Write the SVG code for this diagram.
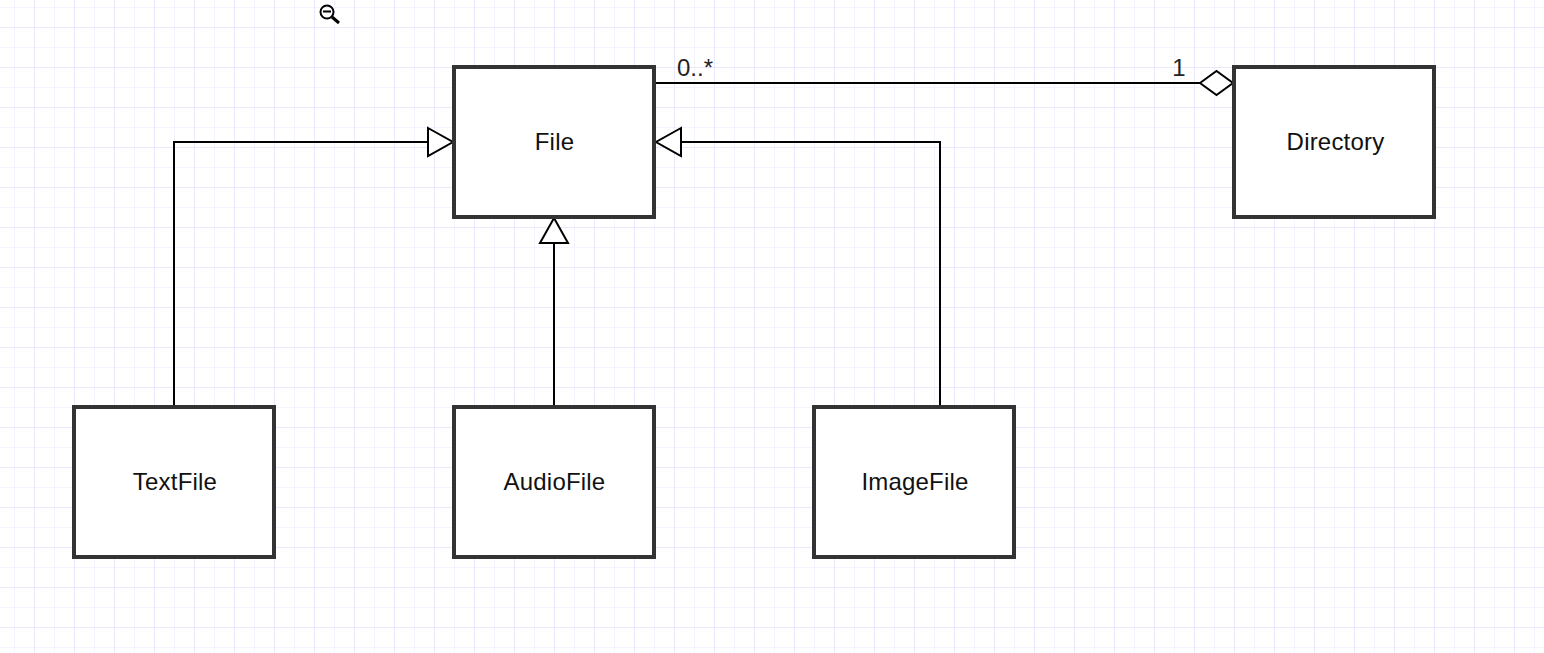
<svg xmlns="http://www.w3.org/2000/svg" width="1544" height="653" viewBox="0 0 1544 653">
<style>
.box{fill:#fff;stroke:#333;stroke-width:4}
.lbl{font:24px "Liberation Sans",Arial,sans-serif;fill:#111;text-anchor:middle;letter-spacing:.2px}
.mult{font:24px "Liberation Sans",Arial,sans-serif;fill:#222;text-anchor:middle}
.edge{fill:none;stroke:#000;stroke-width:2}
.head{fill:#fff;stroke:#000;stroke-width:2}
</style>
<defs>
<pattern id="grid" width="40" height="40" patternUnits="userSpaceOnUse" x="14" y="7">
<path d="M0 .5H40M.5 0V40" fill="none" stroke="#f5f4fe" stroke-width="1"/>
<path d="M0 20.500H40M20.500 0V40" fill="none" stroke="#ebe8fd" stroke-width="1"/>
</pattern>
</defs>
<rect width="1544" height="653" fill="#fff"/>
<rect width="1544" height="653" fill="url(#grid)"/>
<g id="zoom-icon" fill="none" stroke="#000">
<circle cx="327" cy="12" r="6.500" stroke-width="2"/>
<path d="M323 11.500H331" stroke-width="2"/>
<path d="M332 17L339 23" stroke-width="3"/>
</g>
<g id="connectors">
<path class="edge" d="M655 83H1200"/>
<path class="head" d="M1200 83L1216.500 71L1233 83L1216.500 95Z"/>
<path class="edge" d="M174 407V142H428"/>
<path class="head" d="M428 128L453 142L428 156Z"/>
<path class="edge" d="M554 407V243"/>
<path class="head" d="M540 243L554 218L568 243Z"/>
<path class="edge" d="M940 407V142H681"/>
<path class="head" d="M681 128L656 142L681 156Z"/>
<text class="mult" x="695" y="76">0..*</text>
<text class="mult" x="1179" y="76">1</text>
</g>
<g id="file"><rect class="box" x="454" y="67" width="200" height="150"/><text class="lbl" x="554.500" y="150">File</text></g>
<g id="directory"><rect class="box" x="1234" y="67" width="200" height="150"/><text class="lbl" x="1335.500" y="150">Directory</text></g>
<g id="textfile"><rect class="box" x="74" y="407" width="200" height="150"/><text class="lbl" x="175" y="490">TextFile</text></g>
<g id="audiofile"><rect class="box" x="454" y="407" width="200" height="150"/><text class="lbl" x="554.500" y="490">AudioFile</text></g>
<g id="imagefile"><rect class="box" x="814" y="407" width="200" height="150"/><text class="lbl" x="915" y="490">ImageFile</text></g>
</svg>
